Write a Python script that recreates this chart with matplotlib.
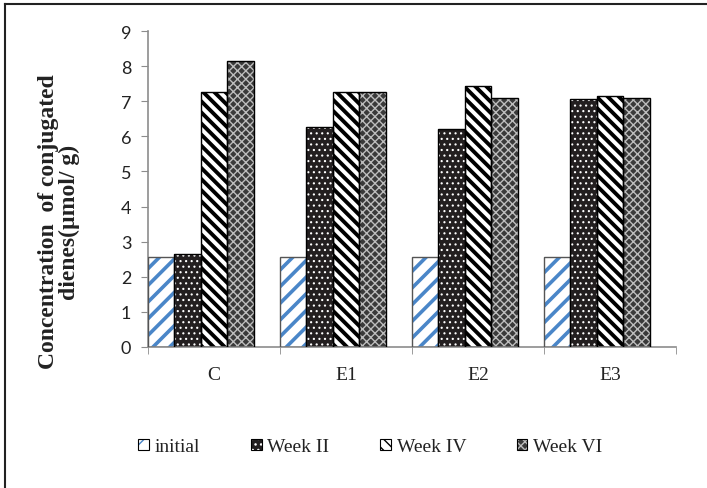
import matplotlib
matplotlib.use("Agg")
import matplotlib.pyplot as plt
import numpy as np
from matplotlib.patches import Patch
from matplotlib.lines import Line2D

categories = ["C", "E1", "E2", "E3"]
series_names = ["initial", "Week II", "Week IV", "Week VI"]
initial = [2.55, 2.55, 2.55, 2.55]
week2 = [2.65, 6.28, 6.22, 7.05]
week4 = [7.25, 7.25, 7.42, 7.15]
week6 = [8.15, 7.25, 7.10, 7.10]
yticks = list(range(0, 10))

fig = plt.figure(figsize=(7.07, 4.89), dpi=100)
ax = fig.add_axes([148/707, 1-348/489, (676-148)/707, (348-32)/489])

n = len(categories)
x = np.arange(n)
w = 0.2
offsets = [0.1, 0.3, 0.5, 0.7]

styles = [
    dict(face="white", hatch="//", hcol="#4a86c8", hlw=2.6, outline="#555555"),
    dict(face="#231f20", hatch="...", hcol="white", hlw=0.8, outline="black"),
    dict(face="white", hatch="\\\\\\", hcol="black", hlw=2.8, outline="black"),
    dict(face="#3a3a3a", hatch="xxxx", hcol="#bdbdbd", hlw=1.0, outline="black"),
]
data = [initial, week2, week4, week6]

handles = []
for vals, off, st, name in zip(data, offsets, styles, series_names):
    with plt.rc_context({"hatch.linewidth": st["hlw"]}):
        ax.bar(x + off, vals, width=w, color=st["face"], hatch=st["hatch"],
               edgecolor=st["hcol"], linewidth=0, zorder=2)
        h1 = Patch(facecolor=st["face"], hatch=st["hatch"], edgecolor=st["hcol"],
                   linewidth=0)
    ax.bar(x + off, vals, width=w, fill=False, edgecolor=st["outline"],
           linewidth=1.0, zorder=3)
    h2 = Patch(fill=False, edgecolor="black", linewidth=0.8)
    handles.append((h1, h2))

ax.set_xlim(0, n)
ax.set_ylim(0, 9)
ax.set_yticks(yticks)
ax.set_yticklabels([str(t) for t in yticks], fontfamily="Lato", fontsize=13,
                   color="#222222")
ax.set_xticks(x + 0.5)
ax.set_xticklabels(categories, fontfamily="Liberation Serif", fontsize=14,
                   color="#222222")
ax.set_xticks(np.arange(n + 1), minor=True)
ax.tick_params(axis="x", which="major", length=0, pad=14)
ax.tick_params(axis="x", which="minor", length=5, color="#8c8c8c", direction="out")
ax.tick_params(axis="y", length=5, color="#8c8c8c", direction="out", pad=7)

for s in ["top", "right"]:
    ax.spines[s].set_visible(False)
ax.spines["left"].set_color("#8c8c8c")
ax.spines["bottom"].set_color("#8c8c8c")
ax.spines["left"].set_linewidth(1.2)
ax.spines["bottom"].set_linewidth(1.2)

fig.text(0.083, 1 - 222/489, "Concentration  of conjugated\ndienes(\u00b5mol/ g)",
         rotation=90, ha="center", va="center", fontfamily="Liberation Serif",
         fontweight="bold", fontsize=17, linespacing=1.0, color="#222222")

leg = fig.legend(handles, series_names, loc="center", bbox_to_anchor=(0.524, 1 - 448/489),
                 ncol=4, frameon=False, handlelength=0.55, handleheight=0.55,
                 handletextpad=0.3, columnspacing=2.6,
                 prop={"family": "Liberation Serif", "size": 14})
for t in leg.get_texts():
    t.set_color("#222222")

# figure frame: top and left lines
fig.add_artist(Line2D([5/707, 1.0], [1 - 5/489, 1 - 5/489], color="#222222",
                      linewidth=1.5, transform=fig.transFigure))
fig.add_artist(Line2D([5/707, 5/707], [0, 1 - 5/489], color="#222222",
                      linewidth=1.5, transform=fig.transFigure))

fig.savefig("out.png", dpi=100)
